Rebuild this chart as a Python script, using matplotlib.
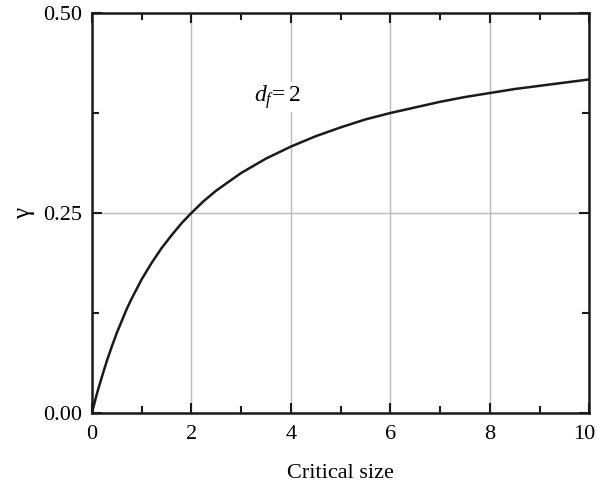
import matplotlib
matplotlib.use("Agg")
import matplotlib.pyplot as plt
from matplotlib.ticker import MultipleLocator
from matplotlib.transforms import ScaledTranslation

plt.rcParams["font.family"] = ["Liberation Serif", "DejaVu Serif"]
plt.rcParams["mathtext.fontset"] = "custom"
plt.rcParams["mathtext.rm"] = "Liberation Serif"
plt.rcParams["mathtext.it"] = "Liberation Serif:italic"

# gamma versus critical size, fractal dimension d_f = 2
critical_size = [0, 0.05, 0.1, 0.2, 0.3, 0.4, 0.5, 0.6, 0.7, 0.8, 0.9, 1.0, 1.2, 1.4,
                 1.6, 1.8, 2.0, 2.25, 2.5, 2.75, 3.0, 3.5, 4.0, 4.5, 5.0, 5.5, 6.0,
                 6.5, 7.0, 7.5, 8.0, 8.5, 9.0, 9.5, 10.0]
gamma = [0, 0.012, 0.024, 0.045, 0.065, 0.083, 0.100, 0.115, 0.130, 0.143, 0.155,
         0.167, 0.1875, 0.206, 0.222, 0.237, 0.250, 0.265, 0.278, 0.289, 0.300,
         0.318, 0.333, 0.346, 0.357, 0.367, 0.375, 0.382, 0.389, 0.395, 0.400,
         0.405, 0.409, 0.413, 0.417]

fig = plt.figure(figsize=(5.97, 4.84), dpi=100)
ax = fig.add_axes([0.154, 0.147, 0.833, 0.826])

ax.plot(critical_size, gamma, color="#1a1a1a", linewidth=1.8)

ax.set_xlim(0, 10)
ax.set_ylim(0, 0.5)
ax.xaxis.set_major_locator(MultipleLocator(2))
ax.xaxis.set_minor_locator(MultipleLocator(1))
ax.yaxis.set_major_locator(MultipleLocator(0.25))
ax.yaxis.set_minor_locator(MultipleLocator(0.125))
ax.yaxis.set_major_formatter(plt.FormatStrFormatter("%.2f"))

ax.tick_params(which="both", direction="in", top=True, right=True, labelsize=16,
               width=1.5, color="#1a1a1a")
ax.tick_params(which="major", length=7)
ax.tick_params(which="minor", length=5)
ax.tick_params(axis="x", pad=9)
ax.tick_params(axis="y", pad=7)
for s in ax.spines.values():
    s.set_linewidth(1.8)
    s.set_color("#1a1a1a")

ax.grid(True, which="major", color="#bbbbbb", linewidth=1.0)

ax.set_xlabel("Critical size", fontsize=16, labelpad=14)
ax.set_ylabel("γ", fontsize=18, rotation=90, labelpad=6)

ax.text(3.25, 0.395, r"$d_f\!=2$", fontsize=17, va="center", ha="left",
        bbox=dict(facecolor="white", edgecolor="none", pad=0.5))

# nudge the "10" label so it stays inside the figure
fig.canvas.draw()
for lab in ax.get_xticklabels():
    if lab.get_text() == "10":
        lab.set_transform(lab.get_transform() + ScaledTranslation(-5 / 100, 0, fig.dpi_scale_trans))

fig.savefig("out.png", dpi=100)
